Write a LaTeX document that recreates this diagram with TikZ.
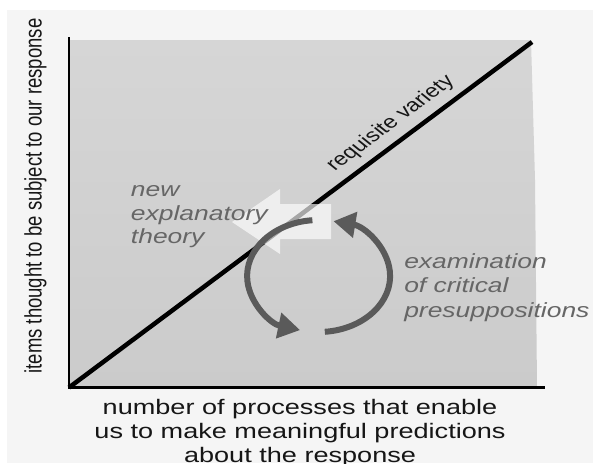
\documentclass[tikz,border=0pt]{standalone}
\usepackage{fontspec}
\setmainfont{Liberation Sans}
\usetikzlibrary{arrows.meta,calc}
\definecolor{sheet}{HTML}{F5F5F5}
\definecolor{paneltop}{HTML}{D6D6D6}
\definecolor{panelbot}{HTML}{CBCBCB}
\definecolor{ink}{HTML}{161616}
\definecolor{notegray}{HTML}{666666}
\definecolor{cyclegray}{HTML}{5A5A5A}
\tikzset{
  axislabel/.style={font=\fontsize{18.5}{22}\selectfont, text=ink, xscale=1.29, inner sep=0pt},
  xlabel/.style={font=\fontsize{21}{24}\selectfont, text=ink, xscale=1.29, inner sep=0pt, anchor=base},
  note/.style={font=\itshape\fontsize{20.5}{24.5}\selectfont, text=notegray, xscale=1.29, inner sep=0pt, anchor=base west},
  axisline/.style={draw=black, line width=2.6pt},
  cyclearrow/.style={draw=cyclegray, line width=6pt, -{Triangle[length=22pt,width=25pt]}},
}
\begin{document}
\begin{tikzpicture}[x=1pt,y=-1pt]
\useasboundingbox (0,0) rectangle (593,463);
% sheet
\fill[white] (0,0) rectangle (593,463);
\fill[sheet] (7,10) rectangle (593,463);
% shaded plot area
\shade[top color=paneltop, bottom color=panelbot]
  (70,40) -- (531,40) -- (535,180) -- (537,387) -- (70,387) -- cycle;
% axes
\coordinate (o) at (69,387.5);
\coordinate (ytop) at (69,37);
\coordinate (ybot) at (69,388.8);
\coordinate (xstart) at (67.7,387.5);
\coordinate (xend) at (545,387.5);
\coordinate (dend) at (532,42);
\draw[axisline] (ytop) -- (ybot);
\draw[axisline, line width=2.4pt] (xstart) -- (xend);
% requisite variety diagonal
\draw[black, line width=4.5pt] (o) -- (dend);
% translucent block arrow
\fill[white, opacity=0.65]
  (331,204) -- (280,204) -- (280,189) -- (232,222) -- (280,254) -- (280,239) -- (331,239) -- cycle;
% examination cycle
\coordinate (cyc) at (318.6,276);
\draw[cyclearrow] ($(cyc)+(-95:71.5 and 56)$)
  arc[start angle=-95, end angle=-255, x radius=71.5, y radius=56];
\draw[cyclearrow] ($(cyc)+(-275:71.5 and 56)$)
  arc[start angle=-275, end angle=-438, x radius=71.5, y radius=56];
% axis labels
\node[axislabel, rotate=90, anchor=base] (ylab) at (41.7,196)
  {items thought to be subject to our response};
\node[xlabel] (xlab1) at (300,414) {number of processes that enable};
\node[xlabel] (xlab2) at (300,438) {us to make meaningful predictions};
\node[xlabel] (xlab3) at (300,462) {about the response};
\node[axislabel, rotate=43.9, anchor=base] (req) at (395,127) {requisite variety};
% notes
\node[note] (theory1) at (130.7,196) {new};
\node[note] (theory2) at (130.7,220) {explanatory};
\node[note] (theory3) at (130.7,243.5) {theory};
\node[note] (exam1) at (404,268) {examination};
\node[note] (exam2) at (404,292.5) {of critical};
\node[note] (exam3) at (404,317) {presuppositions};
\end{tikzpicture}
\end{document}
